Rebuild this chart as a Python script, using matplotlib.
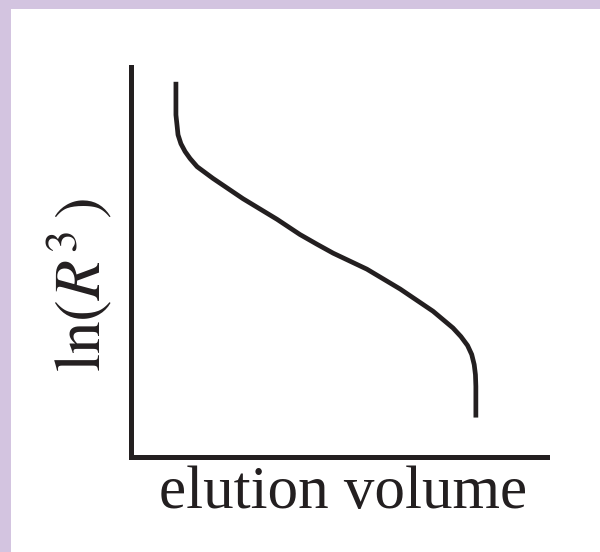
import matplotlib
matplotlib.use("Agg")
import matplotlib.pyplot as plt
from matplotlib.patches import Rectangle

plt.rcParams["font.family"] = ["Liberation Serif", "DejaVu Serif"]
plt.rcParams["mathtext.fontset"] = "stix"

# calibration curve: elution volume vs ln(R^3), arbitrary units (0-100)
elution_volume = [10.8, 10.8, 11.1, 11.3, 12.0, 13.0, 14.2, 15.9, 19.7, 26.9,
                  35.1, 40.6, 44.7, 48.6, 56.7, 64.7, 72.6, 77.4, 79.3, 80.9,
                  81.9, 82.5, 82.8, 82.9, 82.9]
ln_r3 = [96.2, 87.7, 84.7, 82.6, 80.3, 78.3, 76.5, 74.4, 71.4, 66.2,
         60.9, 57.0, 54.5, 52.2, 48.1, 43.0, 37.3, 33.0, 30.8, 28.5,
         26.2, 23.6, 21.0, 18.0, 10.0]

ink = "#231f20"
lavender = "#d3c4e0"

W, H = 600, 552
fig = plt.figure(figsize=(W / 100, H / 100), dpi=100, facecolor=lavender)
fig.patches.append(Rectangle((11 / W, 0), 1, 1 - 9 / H, transform=fig.transFigure,
                             facecolor="white", edgecolor="none", zorder=-1))

ax = fig.add_axes([131 / W, (H - 456.5) / H, (547 - 131) / W, (456.5 - 67) / H])
ax.patch.set_visible(False)
ax.plot(elution_volume, ln_r3, color=ink, lw=3.4, solid_capstyle="butt",
        solid_joinstyle="round")
ax.set_xlim(0, 100)
ax.set_ylim(0, 100)
for side in ["top", "right"]:
    ax.spines[side].set_visible(False)
for side in ["left", "bottom"]:
    ax.spines[side].set_linewidth(3.6)
    ax.spines[side].set_color(ink)
ax.set_xticks([])
ax.set_yticks([])

fig.text(343 / W, 1 - 508 / H, "elution volume", fontsize=44, color=ink,
         ha="center", va="baseline")
fig.text(80 / W, 1 - 285 / H, r"$\mathrm{ln}(R^{3}\,)$", fontsize=47, color=ink,
         rotation=90, ha="center", va="center")

fig.savefig("out.png", dpi=100, facecolor=lavender)
